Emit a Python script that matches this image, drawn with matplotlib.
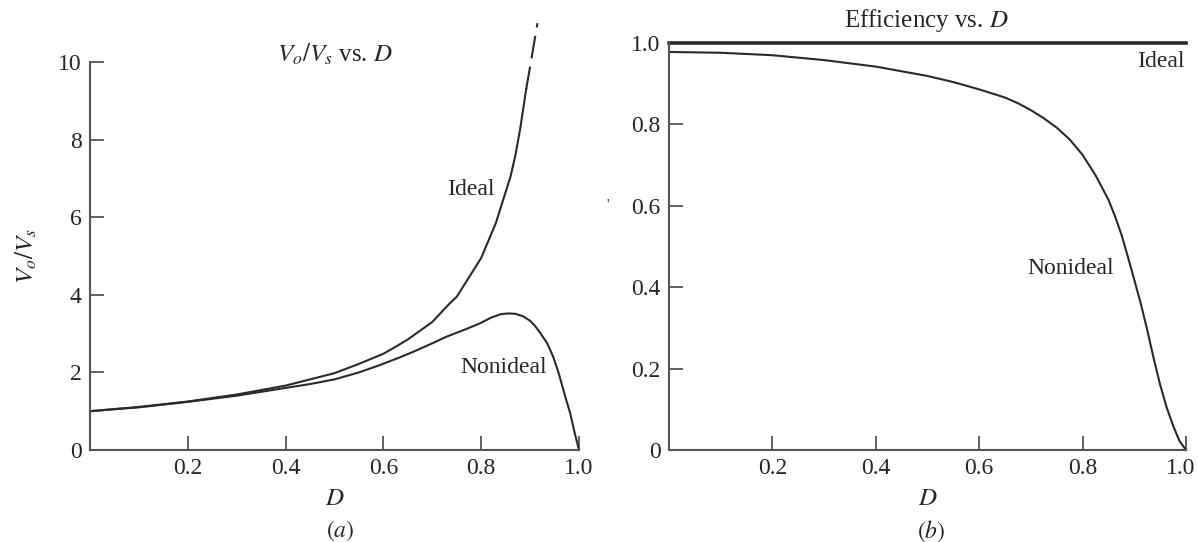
import matplotlib
matplotlib.use("Agg")
import matplotlib.pyplot as plt
from matplotlib.transforms import ScaledTranslation

plt.rcParams["font.family"] = ["Liberation Serif", "DejaVu Serif"]
plt.rcParams["mathtext.fontset"] = "stix"

INK = "#2a2a2a"
TXT = "#262626"

# (a) Vo/Vs vs D
d_ideal = [0.0, 0.1, 0.2, 0.3, 0.4, 0.45, 0.5, 0.525, 0.55, 0.575, 0.6, 0.625, 0.65, 0.68,
           0.7, 0.72, 0.735, 0.75, 0.77, 0.785, 0.8, 0.815, 0.83, 0.845, 0.86, 0.87,
           0.88, 0.892]
vo_ideal = [1.0, 1.11, 1.25, 1.43, 1.66, 1.82, 1.98, 2.1, 2.22, 2.35, 2.48, 2.66, 2.85, 3.12,
            3.3, 3.57, 3.77, 3.95, 4.35, 4.65, 4.95, 5.4, 5.85, 6.45, 7.05, 7.6, 8.3, 9.3]
d_ideal_dash = [0.892, 0.903, 0.915]
vo_ideal_dash = [9.3, 10.1, 11.0]

d_nonideal = [0.0, 0.1, 0.2, 0.3, 0.4, 0.45, 0.5, 0.55, 0.593, 0.63, 0.661, 0.7, 0.729,
              0.77, 0.8, 0.82, 0.84, 0.855, 0.87, 0.885, 0.9, 0.91, 0.92, 0.935, 0.947,
              0.958, 0.968, 0.976, 0.982, 0.99, 1.0]
vo_nonideal = [1.0, 1.1, 1.24, 1.4, 1.6, 1.7, 1.82, 2.0, 2.19, 2.37, 2.53, 2.75, 2.92,
               3.12, 3.28, 3.41, 3.5, 3.52, 3.51, 3.45, 3.33, 3.2, 3.03, 2.75, 2.41,
               2.0, 1.55, 1.2, 0.95, 0.5, 0.0]

# (b) efficiency vs D
d_eff = [0.0, 0.1, 0.2, 0.3, 0.4, 0.5, 0.55, 0.6, 0.65, 0.675, 0.7, 0.725, 0.75, 0.775,
         0.8, 0.825, 0.85, 0.8625, 0.875, 0.8875, 0.9, 0.9125, 0.925, 0.9375, 0.95,
         0.9625, 0.975, 0.9875, 1.0]
eff_nonideal = [0.978, 0.976, 0.97, 0.958, 0.942, 0.919, 0.904, 0.886, 0.866, 0.852, 0.835,
                0.815, 0.792, 0.763, 0.725, 0.675, 0.615, 0.575, 0.53, 0.475, 0.418, 0.36,
                0.295, 0.225, 0.16, 0.105, 0.06, 0.022, 0.0]
eff_ideal = [1.0, 1.0]
d_eff_ideal = [0.0, 1.0]


def style_axes(ax):
    for s in ["top", "right"]:
        ax.spines[s].set_visible(False)
    for s in ["left", "bottom"]:
        ax.spines[s].set_linewidth(1.5)
        ax.spines[s].set_color("#555555")
    ax.tick_params(direction="in", length=10, width=1.3, color="#555555",
                   labelsize=17, labelcolor=TXT, pad=6)


fig = plt.figure(figsize=(11.98, 5.42), dpi=100)

#########################################################
# Panel (a)
ax1 = fig.add_axes([90 / 1198, 92 / 542, 489 / 1198, 388 / 542])
ax1.plot(d_ideal, vo_ideal, color=INK, lw=1.5)
ax1.plot(d_ideal_dash, vo_ideal_dash, color=INK, lw=1.5, linestyle=(0, (11, 4)), clip_on=False)
ax1.plot(d_nonideal, vo_nonideal, color=INK, lw=1.5, clip_on=False)
ax1.set_xlim(0, 1.0)
ax1.set_ylim(0, 10)
ax1.set_xticks([0.2, 0.4, 0.6, 0.8, 1.0])
ax1.set_xticklabels(["0.2", "0.4", "0.6", "0.8", "1.0"])
ax1.set_yticks([0, 2, 4, 6, 8, 10])
style_axes(ax1)
ax1.set_xlabel("$D$", fontsize=18, color=TXT, labelpad=6)
ax1.set_ylabel("$V_o/V_s$", fontsize=18, color=TXT, labelpad=14)
ax1.text(0.5, 10.2, "$V_o/V_s$ vs. $D$", fontsize=18, color=TXT, ha="center", va="center")
ax1.text(0.779, 6.71, "Ideal", fontsize=17, color=TXT, ha="center", va="center")
ax1.text(0.845, 2.13, "Nonideal", fontsize=17, color=TXT, ha="center", va="center")
fig.text(340 / 1198, 1 - 531 / 542, "$(a)$", fontsize=17, color=TXT, ha="center", va="center")

#########################################################
# Panel (b)
ax2 = fig.add_axes([669 / 1198, 92 / 542, 517 / 1198, 407 / 542])
ax2.plot(d_eff_ideal, eff_ideal, color=INK, lw=2.6, clip_on=False)
ax2.plot(d_eff, eff_nonideal, color=INK, lw=1.5, clip_on=False)
ax2.set_xlim(0, 1.0)
ax2.set_ylim(0, 1.0)
ax2.set_xticks([0.2, 0.4, 0.6, 0.8, 1.0])
ax2.set_xticklabels(["0.2", "0.4", "0.6", "0.8", "1.0"])
ax2.set_yticks([0, 0.2, 0.4, 0.6, 0.8, 1.0])
ax2.set_yticklabels(["0", "0.2", "0.4", "0.6", "0.8", "1.0"])
style_axes(ax2)
# keep the last tick label inside the figure edge
last = ax2.get_xticklabels()[-1]
last.set_transform(last.get_transform() + ScaledTranslation(-4 / 72, 0, fig.dpi_scale_trans))
ax2.set_xlabel("$D$", fontsize=18, color=TXT, labelpad=6)
ax2.text(0.497, 1.055, "Efficiency vs. $D$", fontsize=18, color=TXT, ha="center", va="center")
ax2.text(0.998, 0.955, "Ideal", fontsize=17, color=TXT, ha="right", va="center")
ax2.text(0.776, 0.445, "Nonideal", fontsize=17, color=TXT, ha="center", va="center")
fig.text(931 / 1198, 1 - 531 / 542, "$(b)$", fontsize=17, color=TXT, ha="center", va="center")
fig.text(608 / 1198, 1 - 205 / 542, "'", fontsize=10, color=TXT, ha="center", va="center")

fig.savefig("out.png", dpi=100)
